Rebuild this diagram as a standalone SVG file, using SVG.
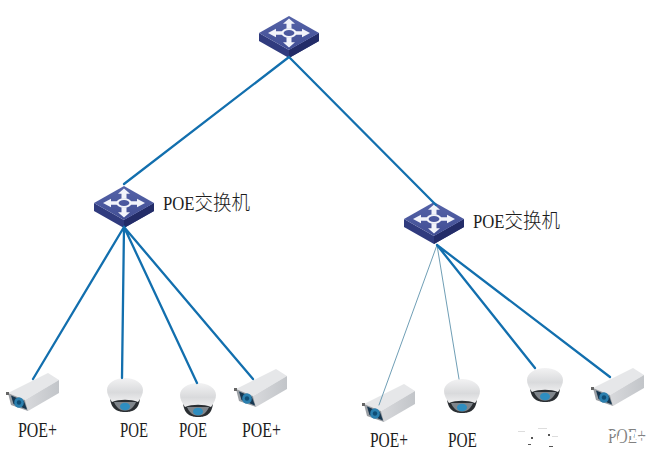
<svg xmlns="http://www.w3.org/2000/svg" width="664" height="471" viewBox="0 0 664 471">
<style>
.l{fill:none;stroke:#126fae;stroke-width:2.3;stroke-linecap:round}
.t{stroke:#5f93ad;stroke-width:.9}
text{font-family:"Liberation Serif","Noto Sans CJK SC",serif;font-size:21px;fill:#1c1c1c}
.s{font-size:18px}
.c{font-size:20px;font-family:"Noto Sans CJK SC",serif;font-weight:300}
</style>
<defs>
<linearGradient id="top" x1="0" y1="0" x2="0" y2="1"><stop offset="0" stop-color="#5563a8"/><stop offset="1" stop-color="#414e94"/></linearGradient>
<linearGradient id="body" x1="0" y1="0" x2="1" y2="0"><stop offset="0" stop-color="#d8d9dc"/><stop offset="1" stop-color="#c2c5c9"/></linearGradient>
<linearGradient id="cap" x1="0" y1="0" x2="0" y2="1"><stop offset="0" stop-color="#f2f2f3"/><stop offset=".6" stop-color="#d9dadc"/><stop offset="1" stop-color="#eeeeef"/></linearGradient>
<g id="arrows" fill="#f2f4fa" stroke="none">
<path d="M0-17l6 6h-3.500v6h-5v-6h-3.500zM0 17l6-6h-3.500v-6h-5v6h-3.500z"/>
<path d="M-21 0l8-5v3h6v4h-6v3zM21 0l-8-5v3h-6v4h6v3z"/>
<ellipse rx="6.500" ry="4.500" fill="none" stroke="#f2f4fa" stroke-width="2.200"/>
</g>
<g id="sw">
<path d="M-30 0L0 17L30 0V8L0 25L-30 8Z" fill="#303b7e"/>
<path d="M0 17L30 0V8L0 25Z" fill="#232c68"/>
<path d="M0-17L30 0L0 17L-30 0Z" fill="url(#top)"/>
<use href="#arrows" transform="scale(1 .85)"/>
</g>
<g id="box">
<path d="M1 20L41 0L52 7L18 27Z" fill="#e6e7e9"/>
<path d="M18 27L52 7V20L21 38Z" fill="url(#body)"/>
<path d="M1 20L18 27L21 38L4 32Z" fill="#9a9ea3"/>
<path d="M4 22.500L17 28L20 36.500L6.500 31Z" fill="#16364f"/>
<ellipse cx="12" cy="29.500" rx="4.800" ry="5.300" fill="#2b7fae"/>
<circle cx="12" cy="29.500" r="2.200" fill="#0f4d75"/>
<rect x="-1" y="19" width="3" height="3" fill="#666"/>
</g>
<g id="dome">
<path d="M3 20C4 33 13 34 18 34C24 34 32 33 33 20Z" fill="#2a2e32"/>
<path d="M7 24C10 31 14 32.500 18 32.500C22 32.500 26 31 29 24Z" fill="#7f858b"/>
<ellipse cx="18" cy="28.500" rx="5" ry="3.800" fill="#2e8dbf"/>
<path d="M0 12C0 5 8 0 18 0C28 0 36 5 36 12C36 16 34 20 31 24C24 21 12 21 5 24C2 20 0 16 0 12Z" fill="url(#cap)"/>
</g>
</defs>
<rect width="664" height="471" fill="#fff"/>
<g id="switch-core"><use href="#sw" transform="translate(289 33)"/></g>
<g id="switch-left"><use href="#sw" transform="translate(124 203)"/>
<text x="163" y="210" textLength="87" lengthAdjust="spacingAndGlyphs"><tspan class="s">POE</tspan><tspan class="c">交换机</tspan></text></g>
<g id="switch-right"><use href="#sw" transform="translate(434 219)"/>
<text x="473" y="228" textLength="87" lengthAdjust="spacingAndGlyphs"><tspan class="s">POE</tspan><tspan class="c">交换机</tspan></text></g>
<g id="cam1"><use href="#box" transform="translate(7 373)"/><text x="18" y="437" textLength="39" lengthAdjust="spacingAndGlyphs">POE+</text></g>
<g id="cam2"><use href="#dome" transform="translate(107 378)"/><text x="120" y="437" textLength="28" lengthAdjust="spacingAndGlyphs">POE</text></g>
<g id="cam3"><use href="#dome" transform="translate(180 383)"/><text x="179" y="437" textLength="28" lengthAdjust="spacingAndGlyphs">POE</text></g>
<g id="cam4"><use href="#box" transform="translate(235 369)"/><text x="242" y="437" textLength="39" lengthAdjust="spacingAndGlyphs">POE+</text></g>
<g id="cam5"><use href="#box" transform="translate(363 384)"/><text x="370" y="447" textLength="38" lengthAdjust="spacingAndGlyphs">POE+</text></g>
<g id="cam6"><use href="#dome" transform="translate(444 379)"/><text x="448" y="447" textLength="29" lengthAdjust="spacingAndGlyphs">POE</text></g>
<g id="cam7"><use href="#dome" transform="translate(527 368)"/>
<path d="M528 444h3v1h-3zM549 446h4v1h-4zM531 437h2v2h-2zM548 434h2v2h-2z" fill="#555"/>
<path d="M518 431h7v1h-7zM538 428h9v1h-9zM552 436h6v1h-6z" fill="#ddd"/></g>
<g id="cam8"><use href="#box" transform="translate(592 368)"/><text x="608" y="443" textLength="38" lengthAdjust="spacingAndGlyphs" opacity=".55">POE+</text>
<path d="M606 431h10v3h-10zM618 436h3v6h-3zM629 432h5v4h-5zM630 440h8v2h-8zM612 440h3v4h-3zM640 436h3v2h-3z" fill="#fff"/></g>
<g id="connectors">
<path class="l" d="M289 57L124 184M289 57L436 205"/>
<path class="l" d="M124 227L33 379M124 227L122 378M124 227L197 383M124 227L253 379"/>
<path class="l t" d="M437 245L379 405M437 245L459 379"/>
<path class="l" d="M437 245L535 368M437 245L610 377"/>
</g>
</svg>
